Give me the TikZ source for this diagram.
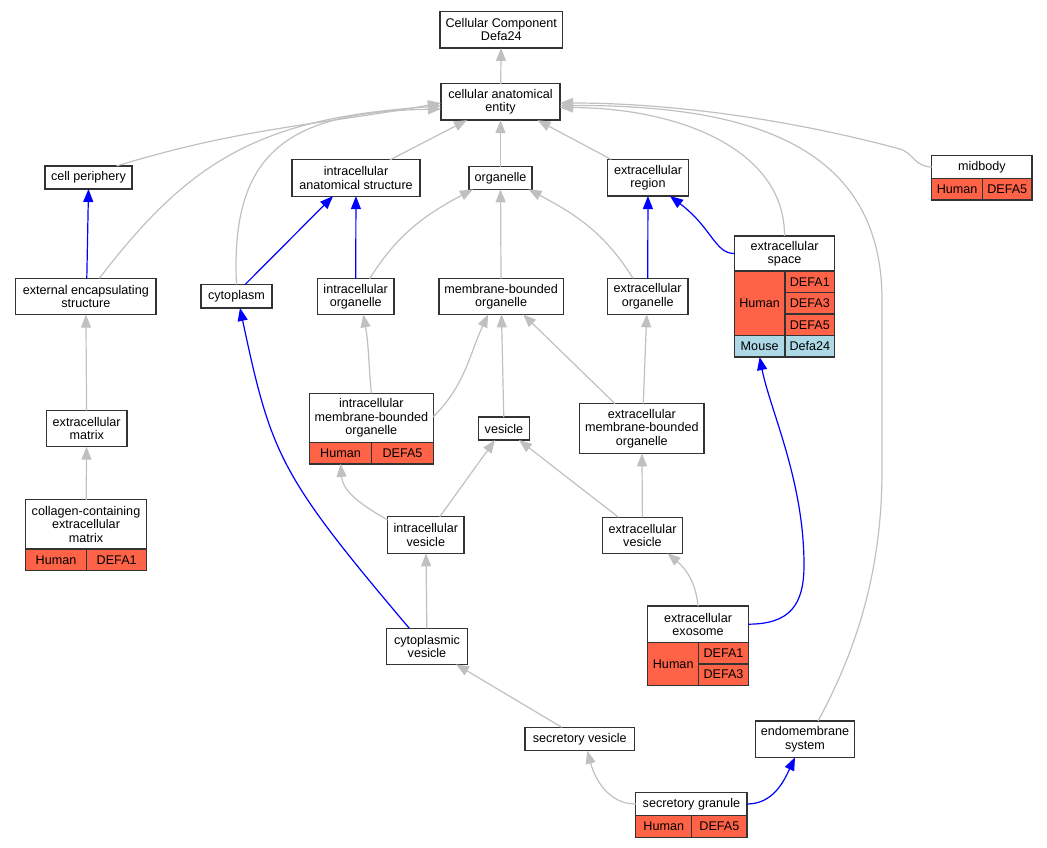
\documentclass[tikz,border=0pt]{standalone}
\usepackage{fontspec}
\setmainfont{Liberation Sans}
\usetikzlibrary{arrows.meta}
\definecolor{human}{HTML}{FF6347}
\definecolor{mouse}{HTML}{ADD8E6}
\definecolor{edgegray}{HTML}{C0C0C0}
\definecolor{boxline}{HTML}{333333}
\begin{document}
\begin{tikzpicture}[x=1pt, y=-1pt,
        term/.style={draw=boxline, line width=1.3pt, fill=white, align=center, inner xsep=4pt, inner ysep=0pt, outer sep=0pt, font=\fontsize{12.6pt}{13.3pt}\selectfont},
        hcell/.style={term, fill=human, minimum height=21.6pt, anchor=north west},
        mcell/.style={term, fill=mouse, minimum height=21.4pt, anchor=north west},
        gedge/.style={draw=edgegray, line width=1.2pt, -{Triangle[length=13pt,width=10pt]}},
        bedge/.style={draw=blue, line width=1.2pt, -{Triangle[length=13pt,width=10pt]}}]
                \useasboundingbox (0,0) rectangle (1047,848);
                \node[term, minimum width=122.7pt, minimum height=36.3pt] (cc) at (501.3,29.8) {Cellular Component\\Defa24};
                \node[term, minimum width=119pt, minimum height=36.3pt] (cae) at (500.5,102) {cellular anatomical\\entity};
                \node[term, minimum width=87pt, minimum height=23pt] (cp) at (88.5,177.5) {cell periphery};
                \node[term, minimum width=128pt, minimum height=36.3pt] (ias) at (356,178) {intracellular\\anatomical structure};
                \node[term, minimum width=63pt, minimum height=22.6pt] (org) at (500.5,178) {organelle};
                \node[term, minimum width=80.7pt, minimum height=36.7pt] (er) at (648,177.7) {extracellular\\region};
                \node[term, minimum width=100.3pt, minimum height=22.6pt] (mb) at (981.9,167) {midbody};
                \node[hcell, minimum width=50.6pt] (mbh) at (mb.south west) {Human};
                \node[hcell, minimum width=49.7pt] (mbd5) at (mbh.north east) {DEFA5};
                \node[term, minimum width=140.3pt, minimum height=36.3pt] (ees) at (85.8,296.5) {external encapsulating\\structure};
                \node[term, minimum width=71pt, minimum height=23.3pt] (cy) at (236.5,296.3) {cytoplasm};
                \node[term, minimum width=76.3pt, minimum height=35.7pt] (io) at (355.7,296.5) {intracellular\\organelle};
                \node[term, minimum width=124.2pt, minimum height=35.7pt] (mbo) at (501.1,296.5) {membrane-bounded\\organelle};
                \node[term, minimum width=80.7pt, minimum height=36pt] (eo) at (647.7,296.3) {extracellular\\organelle};
                \node[term, minimum width=100.4pt, minimum height=35pt] (es) at (784.5,253.5) {extracellular\\space};
                \node[hcell, minimum width=50.7pt, minimum height=64.7pt] (esh) at (es.south west) {Human};
                \node[hcell, minimum width=49.7pt, minimum height=21.57pt] (esd1) at (esh.north east) {DEFA1};
                \node[hcell, minimum width=49.7pt, minimum height=21.57pt] (esd3) at (esd1.south west) {DEFA3};
                \node[hcell, minimum width=49.7pt, minimum height=21.57pt] (esd5) at (esd3.south west) {DEFA5};
                \node[mcell, minimum width=50.7pt] (esm) at (esh.south west) {Mouse};
                \node[mcell, minimum width=49.7pt] (esm24) at (esm.north east) {Defa24};
                \node[term, minimum width=80.7pt, minimum height=36pt] (em) at (86.7,428.7) {extracellular\\matrix};
                \node[term, minimum width=121.4pt, minimum height=49.3pt] (col) at (86,524.4) {collagen-containing\\extracellular\\matrix};
                \node[hcell, minimum width=61.4pt] (colh) at (col.south west) {Human};
                \node[hcell, minimum width=60pt] (cold1) at (colh.north east) {DEFA1};
                \node[term, minimum width=124pt, minimum height=49pt] (imbo) at (371.3,417.8) {intracellular\\membrane-bounded\\organelle};
                \node[hcell, minimum width=62.4pt] (imboh) at (imbo.south west) {Human};
                \node[hcell, minimum width=61.6pt] (imbod5) at (imboh.north east) {DEFA5};
                \node[term, minimum width=50.7pt, minimum height=23pt] (ves) at (504,428.5) {vesicle};
                \node[term, minimum width=124.3pt, minimum height=49.6pt] (embo) at (641.8,428.5) {extracellular\\membrane-bounded\\organelle};
                \node[term, minimum width=76.3pt, minimum height=36.6pt] (iv) at (425.8,535) {intracellular\\vesicle};
                \node[term, minimum width=80.4pt, minimum height=36pt] (ev) at (642.5,535.3) {extracellular\\vesicle};
                \node[term, minimum width=80.6pt, minimum height=36pt] (cv) at (427,646.3) {cytoplasmic\\vesicle};
                \node[term, minimum width=100.6pt, minimum height=36.3pt] (eex) at (698,624.2) {extracellular\\exosome};
                \node[hcell, minimum width=51pt, minimum height=43pt] (eexh) at (eex.south west) {Human};
                \node[hcell, minimum width=49.6pt, minimum height=21.5pt] (eexd1) at (eexh.north east) {DEFA1};
                \node[hcell, minimum width=49.6pt, minimum height=21.5pt] (eexd3) at (eexd1.south west) {DEFA3};
                \node[term, minimum width=109.7pt, minimum height=23.4pt] (sv) at (579.8,739) {secretory vesicle};
                \node[term, minimum width=98.6pt, minimum height=36.3pt] (ens) at (805,739.2) {endomembrane\\system};
                \node[term, minimum width=111.3pt, minimum height=23.4pt] (sg) at (691.4,804) {secretory granule};
                \node[hcell, minimum width=56pt] (sgh) at (sg.south west) {Human};
                \node[hcell, minimum width=55.3pt] (sgd5) at (sgh.north east) {DEFA5};

                \draw[gedge] (cae) -- (cc);
                \draw[gedge] ([xshift=28pt]cp.north) to[out=17,in=190] ([yshift=-1pt]cae.west);
                \draw[gedge] ([xshift=13.5pt]ees.north) .. controls (190,160) and (260,118) .. ([yshift=-4pt]cae.west);
                \draw[gedge] (cy.north) .. controls (230,150) and (290,112) .. ([yshift=-7pt]cae.west);
                \draw[gedge] ([xshift=34pt]ias.north) -- ([xshift=-33.5pt]cae.south);
                \draw[gedge] (org) -- (cae);
                \draw[gedge] ([xshift=-37pt]er.north) -- ([xshift=37pt]cae.south);
                \draw[gedge] (es.north) .. controls (785,150) and (680,108) .. ([yshift=-5.5pt]cae.east);
                \draw[gedge] ([xshift=13pt]ens.north) .. controls (862,640) and (882,560) .. (882,470) -- (882,300) .. controls (882,140) and (740,105) .. ([yshift=-3.5pt]cae.east);
                \draw[gedge] (mb.west) .. controls (915,167) and (912,152) .. (900,149) .. controls (800,122) and (680,103) .. ([yshift=-1pt]cae.east);
                \draw[bedge] ([xshift=1pt]ees.north) -- (cp.south);
                \draw[bedge] ([xshift=8.5pt]cy.north) -- ([xshift=-23pt]ias.south);
                \draw[bedge] (io) -- (ias);
                \draw[gedge] ([xshift=14pt]io.north) to[out=58,in=208] ([xshift=-27.5pt]org.south);
                \draw[gedge] (mbo) -- (org);
                \draw[gedge] ([xshift=-14.7pt]eo.north) to[out=122,in=-28] ([xshift=28pt]org.south);
                \draw[bedge] (eo) -- (er);
                \draw[bedge] (es.west) .. controls (715,253.5) and (712,228) .. ([xshift=22pt]er.south);
                \draw[gedge] (em) -- (ees);
                \draw[gedge] (col) -- (em);
                \draw[gedge] (imbo.north) to[out=95,in=-80] ([xshift=7.6pt]io.south);
                \draw[gedge] ([yshift=1pt]imbo.east) to[out=45,in=-115] ([xshift=-13pt]mbo.south);
                \draw[gedge] (ves) -- (mbo);
                \draw[gedge] ([xshift=-26.8pt]embo.north) -- ([xshift=22pt]mbo.south);
                \draw[gedge] ([xshift=1.5pt]embo.north) -- ([xshift=-1pt]eo.south);
                \draw[gedge] ([yshift=15pt]iv.west) to[out=150,in=-85] (imboh.south);
                \draw[gedge] ([xshift=14pt]iv.north) -- ([xshift=-9pt]ves.south);
                \draw[gedge] ([xshift=-24pt]ev.north) -- ([xshift=15pt]ves.south);
                \draw[gedge] (ev) -- (embo);
                \draw[bedge] ([xshift=-17.7pt]cv.north) .. controls (279.7,475.3) and (271.2,455) .. ([xshift=3.5pt]cy.south);
                \draw[gedge] (cv) -- (iv);
                \draw[gedge] (eex.north) to[out=95,in=-40] ([xshift=25pt]ev.south);
                \draw[bedge] (eex.east) .. controls (790,624) and (804,605) .. (804,565) .. controls (804,480) and (770,410) .. (esm.south);
                \draw[gedge] ([xshift=-18pt]sv.north) -- ([xshift=29pt]cv.south);
                \draw[gedge] (sg.west) to[out=180,in=-75] ([xshift=7.5pt]sv.south);
                \draw[bedge] (sg.east) to[out=0,in=-115] ([xshift=-10pt]ens.south);
\end{tikzpicture}
\end{document}
